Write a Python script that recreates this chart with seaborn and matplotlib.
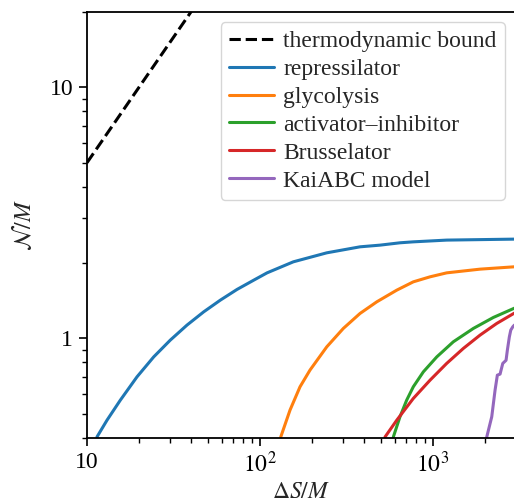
import numpy as np
import pandas as pd
import matplotlib
matplotlib.use("Agg")
import matplotlib.pyplot as plt
import seaborn as sns
from matplotlib.ticker import FixedLocator, FixedFormatter, LogLocator, NullFormatter

# ---- data ----
bound_x = [10, 3000]
bound_y = [5, 1500]

rep_x = [11.42, 13.05, 15.58, 19.45, 24.3, 30.3, 37.84, 47.28, 58.97, 73.62,
         91.96, 109.8, 155.8, 243, 378.4, 494, 644, 769, 1199, 2950]
rep_y = [0.404, 0.471, 0.566, 0.701, 0.842, 0.982, 1.127, 1.273, 1.417, 1.563,
         1.702, 1.820, 2.014, 2.187, 2.311, 2.347, 2.398, 2.419, 2.458, 2.480]

gly_x = [131.8, 149.1, 170.3, 194.5, 243, 303, 378.4, 472.8, 617, 769, 961,
         1199, 1869, 2950]
gly_y = [0.404, 0.517, 0.640, 0.746, 0.923, 1.093, 1.254, 1.395, 1.553, 1.676,
         1.755, 1.820, 1.883, 1.924]

act_x = [589.6, 644, 704, 769, 879, 1051, 1310, 1710, 2232, 2950]
act_y = [0.404, 0.486, 0.566, 0.640, 0.734, 0.842, 0.967, 1.093, 1.209, 1.316]

bru_x = [528, 617, 769, 961, 1199, 1497, 1869, 2333, 2950]
bru_y = [0.404, 0.471, 0.575, 0.680, 0.793, 0.910, 1.028, 1.144, 1.258]

kai_x = [2044, 2184, 2283, 2353, 2440, 2529, 2642, 2689, 2761, 2813, 2889, 2950]
kai_y = [0.404, 0.486, 0.621, 0.712, 0.719, 0.793, 0.816, 0.896, 1.012, 1.076,
         1.109, 1.127]

labels = ["thermodynamic bound", "repressilator", "glycolysis",
          "activator\u2013inhibitor", "Brusselator", "KaiABC model"]
colors = ["black", "#1f77b4", "#ff7f0e", "#2ca02c", "#d62728", "#9467bd"]

xticks = [10, 100, 1000]
xticklabels = ["10", r"$10^2$", r"$10^3$"]
yticks = [1, 10]
yticklabels = ["1", "10"]

# ---- style ----
sns.set_style("ticks")
plt.rcParams["font.family"] = ["Liberation Serif", "DejaVu Serif"]
plt.rcParams["mathtext.fontset"] = "stix"
plt.rcParams["font.size"] = 17

fig = plt.figure(figsize=(5.14, 5.03), dpi=100)
ax = fig.add_axes([87/514, 65/503, 428.6/514, 426.4/503])

series = [(bound_x, bound_y), (rep_x, rep_y), (gly_x, gly_y),
          (act_x, act_y), (bru_x, bru_y), (kai_x, kai_y)]
for i, ((xs, ys), lab, col) in enumerate(zip(series, labels, colors)):
    df = pd.DataFrame({"x": xs, "y": ys})
    sns.lineplot(data=df, x="x", y="y", ax=ax, color=col, label=lab,
                 linewidth=2.2, sort=False, estimator=None,
                 linestyle="--" if i == 0 else "-")

ax.set_xscale("log")
ax.set_yscale("log")
ax.set_xlim(10, 3000)
ax.set_ylim(0.4, 20)

ax.xaxis.set_major_locator(FixedLocator(xticks))
ax.xaxis.set_major_formatter(FixedFormatter(xticklabels))
ax.yaxis.set_major_locator(FixedLocator(yticks))
ax.yaxis.set_major_formatter(FixedFormatter(yticklabels))
ax.xaxis.set_minor_locator(LogLocator(base=10, subs=np.arange(2, 10)))
ax.yaxis.set_minor_locator(LogLocator(base=10, subs=np.arange(2, 10)))
ax.xaxis.set_minor_formatter(NullFormatter())
ax.yaxis.set_minor_formatter(NullFormatter())

ax.tick_params(axis="both", which="major", length=6, width=1.2, colors="black",
               labelsize=17, direction="out", pad=4)
ax.tick_params(axis="both", which="minor", length=3.5, width=1.0, colors="black",
               direction="out")
for s in ax.spines.values():
    s.set_color("black")
    s.set_linewidth(1.3)

ax.set_xlabel(r"$\Delta S/M$", fontsize=17, labelpad=3)
ax.set_ylabel(r"$\mathcal{N}/M$", fontsize=17, labelpad=10)

leg = ax.legend(loc="upper right", fontsize=17, handlelength=1.9,
                labelspacing=0.27, borderaxespad=0.45, borderpad=0.35,
                handletextpad=0.4, frameon=True)
leg.get_frame().set_edgecolor("#cccccc")

fig.savefig("out.png", dpi=100)
